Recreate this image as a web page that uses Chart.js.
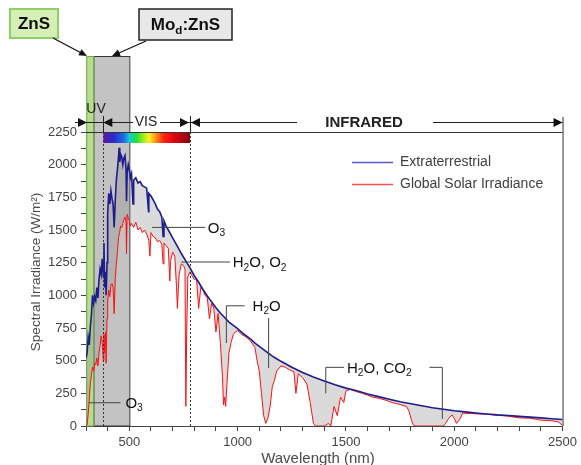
<!DOCTYPE html>
<html>
<head>
<meta charset="utf-8">
<script src="https://cdn.jsdelivr.net/npm/chart.js@4.4.1/dist/chart.umd.min.js"></script>
<style>
  html, body { margin: 0; padding: 0; background: #fff; }
  #wrap { width: 581px; height: 465px; position: relative; }
</style>
</head>
<body>
<div id="wrap"><canvas id="grafico" width="581" height="465"></canvas></div>
<script>
// dados
let etrWl = [300,305,310,315,320,325,330,335,340,345,350,355,360,365,370,375,380,383,386,390,393,397,
  400,405,410,415,420,425,430,435,440,445,450,453,456,460,465,470,475,480,485,487,490,495,500,505,510,517,
  520,530,540,550,560,570,580,589,590,600,610,620,630,640,650,656,660,670,680,690,700,720,740,760,780,
  800,820,840,860,880,900,920,940,960,980,1000,1020,1040,1060,1080,1100,1120,1140,1160,1180,1200,
  1250,1300,1350,1400,1450,1500,1550,1600,1650,1700,1750,1800,1850,1900,1950,2000,2050,2100,2150,
  2200,2250,2300,2350,2400,2450,2500];
let etrVal = [520,560,680,620,760,850,1000,940,990,960,1060,980,1120,1200,1160,1280,1140,1400,1060,1180,1000,1250,
  1620,1780,1700,1800,1740,1700,1520,1720,1880,1960,2060,2130,2020,2080,2060,2000,2050,2070,1960,1720,1940,2000,1960,1900,1930,1700,
  1880,1900,1860,1870,1840,1830,1820,1640,1780,1760,1730,1700,1660,1640,1600,1450,1570,1530,1500,1470,1440,1380,1320,1265,1210,
  1150,1100,1045,995,950,905,865,830,795,770,745,715,690,665,635,610,585,560,535,515,495,
  450,410,375,345,315,290,270,245,225,205,185,170,155,140,128,117,108,100,92,
  85,80,74,68,62,56,50];

let globWl = [300,305,310,315,320,325,330,335,340,345,350,355,360,365,370,375,380,383,386,390,393,397,
  400,405,410,415,420,425,430,435,440,445,450,455,460,465,470,475,480,485,487,490,495,500,505,510,
  520,530,540,550,560,570,580,590,595,600,610,620,630,640,650,656,660,670,680,687,690,700,710,718,722,726,730,
  740,750,757,761,765,770,780,790,800,810,820,830,840,850,860,870,880,890,900,910,920,930,935,940,945,950,
  960,970,980,990,1000,1010,1020,1040,1060,1080,1090,1100,1110,1120,1130,1140,1150,1160,1170,1180,1200,
  1220,1240,1260,1269,1280,1300,1320,1335,1350,1360,1400,1420,1430,1445,1460,1475,1490,1500,1520,1550,
  1580,1600,1620,1650,1680,1700,1720,1750,1780,1790,1800,1810,1820,1950,1960,1975,1990,2000,2010,2025,
  2040,2060,2080,2100,2150,2200,2250,2300,2350,2400,2450,2480,2500];
let globVal = [0,10,90,200,330,390,450,420,480,470,520,460,560,620,690,640,500,700,560,720,480,820,
  950,1040,990,1080,1090,1060,860,1120,1240,1330,1440,1480,1530,1520,1550,1580,1600,1560,1320,1620,1590,1570,1530,1550,
  1520,1560,1500,1520,1480,1500,1470,1420,1300,1480,1450,1440,1410,1420,1390,1240,1400,1380,1360,1110,1260,1330,1300,1060,900,1040,1160,
  1240,1230,1200,150,720,1140,1180,1150,1120,1130,900,1060,1040,1000,980,820,940,900,720,860,640,380,160,220,150,300,
  560,640,700,720,730,715,700,680,650,600,500,420,250,80,20,60,150,300,350,420,460,
  450,430,415,250,400,370,320,180,20,0,0,20,0,150,80,220,180,270,280,262,
  248,236,222,212,200,188,176,165,148,120,60,10,0,0,20,60,85,60,20,50,
  100,95,96,93,90,82,75,62,60,45,40,32,5];

let series = ["Extraterrestrial", "Global Solar Irradiance"];
let yTicks = [0, 250, 500, 750, 1000, 1250, 1500, 1750, 2000, 2250];
let xTicks = [500, 1000, 1500, 2000, 2500];

let FONT = "'Liberation Sans', Arial, sans-serif";

function pares(xs, ys) {
  return xs.map((x, i) => ({ x: x, y: ys[i] }));
}

// texto com subscrito: partes = [[texto, ehSub], ...]
function textoRico(ctx, partes, x, y, size, bold, align) {
  let peso = bold ? "bold " : "";
  let larg = 0;
  partes.forEach(p => {
    ctx.font = peso + (p[1] ? size * 0.68 : size) + "px " + FONT;
    larg += ctx.measureText(p[0]).width;
  });
  let cx = x;
  if (align === "center") cx = x - larg / 2;
  let base = y + size * 0.36;
  ctx.textAlign = "left";
  ctx.textBaseline = "alphabetic";
  partes.forEach(p => {
    ctx.font = peso + (p[1] ? size * 0.68 : size) + "px " + FONT;
    ctx.fillText(p[0], cx, p[1] ? base + size * 0.22 : base);
    cx += ctx.measureText(p[0]).width;
  });
}

function seta(ctx, x, y, dir) {
  ctx.beginPath();
  ctx.moveTo(x, y);
  ctx.lineTo(x - dir * 9, y - 4.5);
  ctx.lineTo(x - dir * 9, y + 4.5);
  ctx.closePath();
  ctx.fill();
}

function linha(ctx, x1, y1, x2, y2) {
  ctx.beginPath();
  ctx.moveTo(x1, y1);
  ctx.lineTo(x2, y2);
  ctx.stroke();
}

// seta inclinada (caixas -> faixas)
function setaDe(ctx, x1, y1, x2, y2) {
  let ang = Math.atan2(y2 - y1, x2 - x1);
  let len = Math.hypot(x2 - x1, y2 - y1);
  ctx.save();
  ctx.translate(x2, y2);
  ctx.rotate(ang);
  linha(ctx, -len, 0, -7, 0);
  ctx.beginPath();
  ctx.moveTo(0, 0);
  ctx.lineTo(-8, -3.5);
  ctx.lineTo(-8, 3.5);
  ctx.closePath();
  ctx.fill();
  ctx.restore();
}

// faixas ZnS / Mod:ZnS (atras das curvas)
let faixas = {
  id: "faixas",
  beforeDatasetsDraw(chart) {
    let ctx = chart.ctx;
    let X = v => chart.scales.x.getPixelForValue(v);
    let a = chart.chartArea;
    ctx.save();
    // Mo:ZnS
    ctx.fillStyle = "#c3c3c3";
    ctx.fillRect(X(334), 56, X(500) - X(334), a.bottom - 56);
    ctx.strokeStyle = "#333";
    ctx.lineWidth = 1;
    ctx.strokeRect(X(334) + 0.5, 56.5, X(500) - X(334), a.bottom - 56.5);
    // ZnS
    ctx.fillStyle = "#b6dc8e";
    ctx.fillRect(X(301), 56, X(334) - X(301), a.bottom - 56);
    ctx.strokeStyle = "#6fae4c";
    ctx.strokeRect(X(301) + 0.5, 56.5, X(334) - X(301), a.bottom - 56.5);
    ctx.restore();
  }
};

// anotacoes, setas, legenda
let extras = {
  id: "extras",
  afterDatasetsDraw(chart) {
    let ctx = chart.ctx;
    let X = v => chart.scales.x.getPixelForValue(v);
    let a = chart.chartArea;
    ctx.save();
    ctx.strokeStyle = "#333";
    ctx.lineWidth = 1;
    ctx.setLineDash([2, 2]);
    [380, 780].forEach(w => linha(ctx, Math.round(X(w)) + 0.5, a.top, Math.round(X(w)) + 0.5, a.bottom));
    ctx.restore();
  },
  afterDraw(chart) {
    let ctx = chart.ctx;
    let X = v => chart.scales.x.getPixelForValue(v);
    let Y = v => chart.scales.y.getPixelForValue(v);
    let a = chart.chartArea;
    ctx.save();

    // moldura
    ctx.strokeStyle = "#333";
    ctx.lineWidth = 1;
    linha(ctx, a.left, a.top + 0.5, a.right, a.top + 0.5);
    linha(ctx, a.right + 0.5, 117, a.right + 0.5, a.bottom);

    // barra do espectro visivel
    let g = ctx.createLinearGradient(X(380), 0, X(780), 0);
    g.addColorStop(0, "#5a1a9a");
    g.addColorStop(0.12, "#2a2ad0");
    g.addColorStop(0.24, "#1c6ee8");
    g.addColorStop(0.3, "#18c8d8");
    g.addColorStop(0.38, "#20e040");
    g.addColorStop(0.47, "#a8f020");
    g.addColorStop(0.53, "#fff020");
    g.addColorStop(0.6, "#ff9a10");
    g.addColorStop(0.7, "#ff2010");
    g.addColorStop(0.86, "#d00010");
    g.addColorStop(1, "#800010");
    ctx.fillStyle = g;
    ctx.fillRect(X(380), a.top + 1, X(780) - X(380), 10);

    // linha UV / VIS / INFRARED
    let yr = 122.5;
    ctx.strokeStyle = "#222";
    ctx.fillStyle = "#111";
    linha(ctx, 75, yr, 133, yr);
    linha(ctx, 160, yr, 297, yr);
    linha(ctx, 433, yr, a.right, yr);
    [380, 780].forEach(w => linha(ctx, Math.round(X(w)) + 0.5, 116, Math.round(X(w)) + 0.5, a.top));
    seta(ctx, X(300) + 1, yr, 1);
    seta(ctx, X(380), yr, -1);
    seta(ctx, X(780) - 1, yr, 1);
    seta(ctx, X(780) + 1, yr, -1);
    seta(ctx, a.right, yr, 1);
    ctx.fillStyle = "#222";
    ctx.textAlign = "center";
    ctx.textBaseline = "middle";
    ctx.font = "14px " + FONT;
    ctx.fillText("UV", 96, 109);
    ctx.fillText("VIS", 146, yr);
    ctx.font = "bold 15px " + FONT;
    ctx.fillText("INFRARED", 364, yr);

    // caixas ZnS e Mod:ZnS
    ctx.fillStyle = "#d6efb6";
    ctx.strokeStyle = "#8fcf68";
    ctx.lineWidth = 2;
    ctx.fillRect(10, 9, 48, 29);
    ctx.strokeRect(10, 9, 48, 29);
    ctx.fillStyle = "#e8e8e8";
    ctx.strokeStyle = "#222";
    ctx.lineWidth = 1.5;
    ctx.fillRect(139, 9, 93, 31);
    ctx.strokeRect(139, 9, 93, 31);
    ctx.fillStyle = "#111";
    textoRico(ctx, [["ZnS", 0]], 34, 23, 17, true, "center");
    textoRico(ctx, [["Mo", 0], ["d", 1], [":ZnS", 0]], 185.5, 24, 17, true, "center");
    ctx.strokeStyle = "#111";
    ctx.lineWidth = 1.2;
    setaDe(ctx, 53, 38, 87, 56);
    setaDe(ctx, 146, 41, 112, 56);

    // anotacoes das bandas de absorcao
    ctx.strokeStyle = "#444";
    ctx.lineWidth = 1;
    ctx.fillStyle = "#111";
    linha(ctx, X(605), Y(1520), X(850), Y(1520));
    textoRico(ctx, [["O", 0], ["3", 1]], X(862), Y(1520), 15, false, "left");
    linha(ctx, X(740), Y(1255), X(965), Y(1255));
    textoRico(ctx, [["H", 0], ["2", 1], ["O, O", 0], ["2", 1]], X(977), Y(1255), 15, false, "left");
    linha(ctx, X(948), Y(920), X(1032), Y(920));
    linha(ctx, X(948), Y(920), X(948), Y(635));
    linha(ctx, X(1143), Y(826), X(1143), Y(444));
    textoRico(ctx, [["H", 0], ["2", 1], ["O", 0]], X(1069), Y(920), 15, false, "left");
    linha(ctx, X(312), Y(178), X(459), Y(178));
    textoRico(ctx, [["O", 0], ["3", 1]], X(482), Y(178), 15, false, "left");
    linha(ctx, X(1407), Y(449), X(1491), Y(449));
    linha(ctx, X(1407), Y(449), X(1407), Y(250));
    linha(ctx, X(1886), Y(449), X(1945), Y(449));
    linha(ctx, X(1945), Y(449), X(1945), Y(54));
    textoRico(ctx, [["H", 0], ["2", 1], ["O, CO", 0], ["2", 1]], X(1505), Y(449), 15, false, "left");

    // legenda
    chart.data.datasets.forEach((ds, i) => {
      let yl = 162 + i * 22 + 0.5;
      ctx.strokeStyle = ds.legendColor;
      ctx.lineWidth = 1.5;
      linha(ctx, 352, yl, 393, yl);
      ctx.fillStyle = "#404040";
      ctx.font = "14px " + FONT;
      ctx.textAlign = "left";
      ctx.textBaseline = "middle";
      ctx.fillText(ds.label, 400, yl);
    });

    // titulos dos eixos
    ctx.fillStyle = "#4a4a4a";
    ctx.font = "15px " + FONT;
    ctx.textAlign = "center";
    ctx.textBaseline = "middle";
    ctx.fillText("Wavelength (nm)", 318, 459);
    ctx.save();
    ctx.translate(36, 272);
    ctx.rotate(-Math.PI / 2);
    ctx.font = "13.5px " + FONT;
    ctx.fillText("Spectral Irradiance (W/m²)", 0, 0);
    ctx.restore();

    ctx.restore();
  }
};

let chart = new Chart(document.getElementById("grafico"), {
  type: "line",
  data: {
    datasets: [{
      label: series[0],
      data: pares(etrWl, etrVal),
      borderColor: "#1c1c8e",
      legendColor: "#5a5ad0",
      borderWidth: 1.6,
      pointRadius: 0,
      fill: false
    }, {
      label: series[1],
      data: pares(globWl, globVal),
      borderColor: "#ff1010",
      legendColor: "#ff5050",
      borderWidth: 1,
      pointRadius: 0,
      fill: { target: 0 },
      backgroundColor: "rgba(140,140,140,0.32)"
    }]
  },
  options: {
    responsive: false,
    animation: false,
    layout: { padding: { left: 0, right: 16, top: 132, bottom: 0 } },
    plugins: { legend: { display: false }, tooltip: { enabled: false } },
    scales: {
      x: {
        type: "linear",
        min: 300,
        max: 2500,
        ticks: {
          stepSize: 100,
          autoSkip: false,
          maxRotation: 0,
          padding: 4,
          color: "#444",
          font: { family: FONT, size: 13 },
          callback: v => xTicks.includes(v) ? v : ""
        },
        grid: { drawOnChartArea: false, tickLength: 5, color: "#444" },
        border: { color: "#444" },
        afterFit: s => { s.height = 39; }
      },
      y: {
        min: 0,
        max: 2250,
        ticks: {
          stepSize: 125,
          autoSkip: false,
          padding: 4,
          color: "#444",
          font: { family: FONT, size: 13 },
          callback: v => yTicks.includes(v) ? v : ""
        },
        grid: { drawOnChartArea: false, tickLength: 5, color: "#444" },
        border: { color: "#444" },
        afterFit: s => { s.width = 86; }
      }
    }
  },
  plugins: [faixas, extras]
});
</script>
</body>
</html>
